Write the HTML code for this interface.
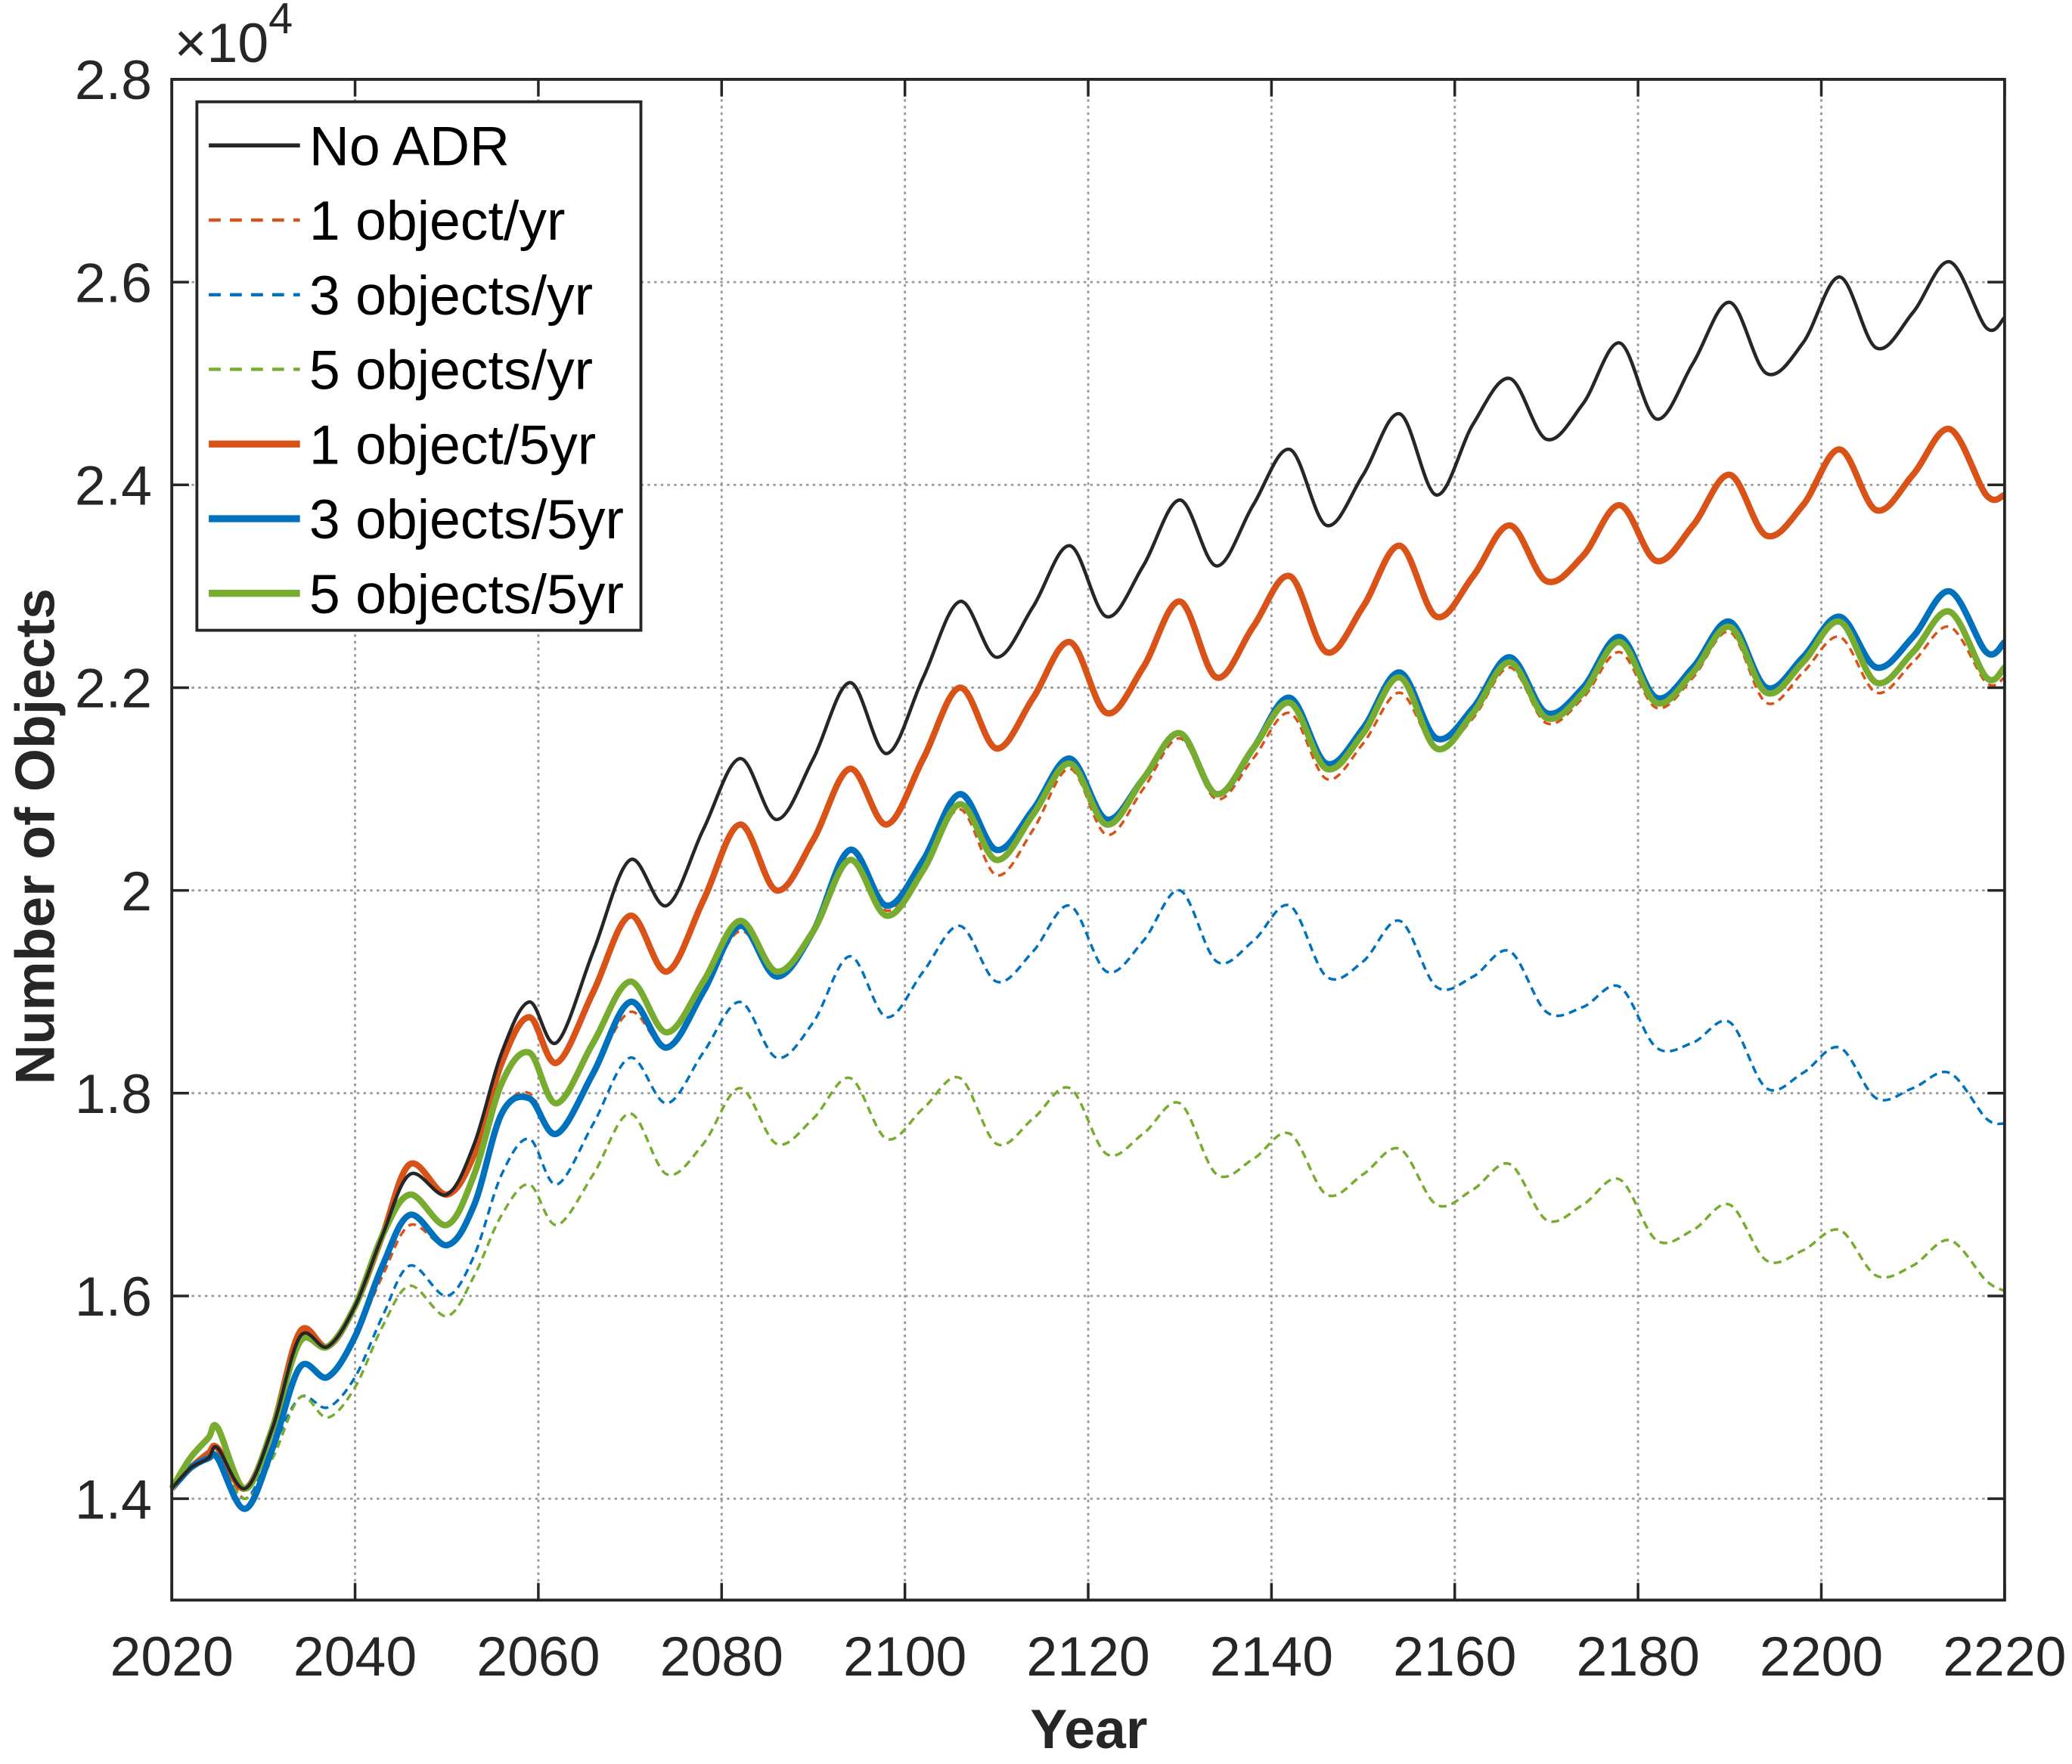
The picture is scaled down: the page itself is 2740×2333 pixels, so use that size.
<!DOCTYPE html>
<html><head><meta charset="utf-8"><style>
html,body{margin:0;padding:0;background:#fff;}
svg{display:block;font-family:"Liberation Sans",Arial,sans-serif;}
</style></head><body>
<svg id="chart" width="2740" height="2333" viewBox="0 0 1568 1335" xmlns="http://www.w3.org/2000/svg">
<rect width="1568" height="1335" fill="#fff"/>
<g id="grid"></g>
<g id="series"></g>
<g id="axes"></g>
<g id="legend"></g>
<text x="132" y="47" font-size="42" fill="#262626">×10<tspan dy="-22" font-size="33">4</tspan></text>
<text x="824" y="1323" text-anchor="middle" font-size="42" font-weight="bold" fill="#262626">Year</text>
<text transform="translate(41,633) rotate(-90)" text-anchor="middle" font-size="42" font-weight="bold" fill="#262626">Number of Objects</text>
</svg>
<script>
const years=[2020,2022,2024,2025,2028,2031,2034,2037,2040,2043,2046,2050,2053,2056,2059,2062,2066,2070,2074,2078,2082,2086,2090,2094,2098,2102,2106,2110,2114,2118,2122,2126,2130,2134,2138,2142,2146,2150,2154,2158,2162,2166,2170,2174,2178,2182,2186,2190,2194,2198,2202,2206,2210,2214,2218,2220];
const noADR=[1.41,1.43,1.44,1.45,1.41,1.47,1.56,1.55,1.59,1.66,1.72,1.70,1.75,1.84,1.89,1.85,1.94,2.03,1.985,2.06,2.13,2.07,2.13,2.205,2.135,2.21,2.285,2.23,2.28,2.34,2.27,2.32,2.385,2.32,2.38,2.435,2.36,2.41,2.47,2.39,2.46,2.505,2.445,2.48,2.54,2.465,2.52,2.58,2.51,2.54,2.605,2.535,2.57,2.62,2.555,2.565];
const one1yr=[1.41,1.43,1.44,1.45,1.40,1.45,1.53,1.52,1.56,1.62,1.67,1.65,1.69,1.78,1.80,1.76,1.82,1.88,1.845,1.90,1.96,1.92,1.96,2.03,1.98,2.02,2.08,2.015,2.06,2.12,2.055,2.10,2.15,2.09,2.13,2.175,2.11,2.145,2.195,2.14,2.17,2.22,2.165,2.19,2.235,2.18,2.21,2.255,2.185,2.215,2.25,2.195,2.225,2.26,2.205,2.21];
const three1yr=[1.41,1.43,1.44,1.44,1.40,1.45,1.50,1.49,1.52,1.58,1.63,1.60,1.64,1.72,1.755,1.71,1.77,1.835,1.79,1.84,1.89,1.835,1.87,1.935,1.875,1.92,1.965,1.91,1.94,1.985,1.92,1.95,2.0,1.93,1.95,1.985,1.915,1.93,1.97,1.905,1.915,1.94,1.88,1.885,1.905,1.845,1.85,1.87,1.805,1.82,1.845,1.795,1.805,1.82,1.775,1.77];
const five1yr=[1.41,1.43,1.44,1.44,1.40,1.44,1.50,1.48,1.51,1.57,1.61,1.58,1.62,1.68,1.71,1.67,1.72,1.78,1.72,1.75,1.805,1.75,1.775,1.815,1.755,1.785,1.815,1.75,1.775,1.805,1.74,1.76,1.79,1.72,1.735,1.76,1.70,1.72,1.745,1.69,1.705,1.73,1.675,1.69,1.715,1.655,1.665,1.69,1.635,1.645,1.665,1.62,1.63,1.655,1.615,1.605];
const one5yr=[1.41,1.43,1.445,1.45,1.41,1.47,1.565,1.55,1.59,1.66,1.73,1.70,1.74,1.83,1.875,1.83,1.90,1.975,1.92,1.99,2.065,2.00,2.05,2.12,2.065,2.13,2.20,2.14,2.19,2.245,2.175,2.22,2.285,2.21,2.26,2.31,2.235,2.28,2.34,2.27,2.31,2.36,2.305,2.33,2.38,2.325,2.36,2.41,2.35,2.38,2.435,2.375,2.41,2.455,2.39,2.39];
const three5yr=[1.41,1.43,1.44,1.44,1.39,1.45,1.53,1.52,1.56,1.63,1.68,1.65,1.69,1.78,1.795,1.76,1.82,1.89,1.845,1.90,1.965,1.915,1.96,2.04,1.985,2.03,2.095,2.04,2.08,2.13,2.07,2.11,2.155,2.095,2.14,2.19,2.125,2.16,2.215,2.15,2.18,2.23,2.175,2.20,2.25,2.19,2.22,2.265,2.20,2.23,2.27,2.22,2.25,2.295,2.235,2.245];
const five5yr=[1.41,1.44,1.46,1.47,1.41,1.47,1.555,1.55,1.59,1.66,1.70,1.67,1.72,1.81,1.84,1.79,1.85,1.91,1.86,1.91,1.97,1.92,1.96,2.03,1.975,2.02,2.085,2.03,2.075,2.125,2.065,2.11,2.155,2.095,2.14,2.185,2.12,2.155,2.21,2.14,2.175,2.225,2.17,2.195,2.245,2.185,2.215,2.26,2.195,2.225,2.265,2.205,2.235,2.275,2.21,2.22];
const xTicks=[2020,2040,2060,2080,2100,2120,2140,2160,2180,2200,2220];
const yTicks=[1.4,1.6,1.8,2,2.2,2.4,2.6,2.8];
const yTickLabels=["1.4","1.6","1.8","2","2.2","2.4","2.6","2.8"];
const seriesNames=["No ADR","1 object/yr","3 objects/yr","5 objects/yr","1 object/5yr","3 objects/5yr","5 objects/5yr"];

const L=130,R=1517,T=60,B=1211;
const X0=2020,X1=2220,Y0=1.3,Y1=2.8;
function sx(v){return L+(v-X0)/(X1-X0)*(R-L);}
function sy(v){return B-(v-Y0)/(Y1-Y0)*(B-T);}
const NS="http://www.w3.org/2000/svg";
function mk(tag,attrs,parent){const e=document.createElementNS(NS,tag);for(const k in attrs)e.setAttribute(k,attrs[k]);parent.appendChild(e);return e;}
const grid=document.getElementById('grid'),axes=document.getElementById('axes'),ser=document.getElementById('series'),leg=document.getElementById('legend');
const gridStyle={stroke:'#9a9a9a','stroke-width':1.6,'stroke-dasharray':'2,3',fill:'none'};
xTicks.forEach((t,i)=>{
  if(i>0&&i<xTicks.length-1){const g=mk('line',Object.assign({x1:sx(t),x2:sx(t),y1:T,y2:B},gridStyle),grid);
  
  }
  const tk=mk('line',{x1:sx(t),x2:sx(t),y1:B,y2:B-13,stroke:'#262626','stroke-width':2},axes);
  
  
  const tk2=mk('line',{x1:sx(t),x2:sx(t),y1:T,y2:T+13,stroke:'#262626','stroke-width':2},axes);
  
  
  const lb=mk('text',{x:sx(t),y:1268,'text-anchor':'middle','font-size':42,fill:'#262626'},axes);
  lb.textContent=t;
  
  
});
yTicks.forEach((t,i)=>{
  if(i<yTicks.length-1){const g=mk('line',Object.assign({x1:L,x2:R,y1:sy(t),y2:sy(t)},gridStyle),grid);
  
  }
  const tk=mk('line',{x1:L,x2:L+13,y1:sy(t),y2:sy(t),stroke:'#262626','stroke-width':2},axes);
  
  
  const tk2=mk('line',{x1:R,x2:R-13,y1:sy(t),y2:sy(t),stroke:'#262626','stroke-width':2},axes);
  
  
  const lb=mk('text',{x:115,y:sy(t)+15,'text-anchor':'end','font-size':42,fill:'#262626'},axes);
  lb.textContent=yTickLabels[i];
  
  
});
const frame=mk('rect',{x:L,y:T,width:R-L,height:B-T,fill:'none',stroke:'#262626','stroke-width':2.2},axes);



const styles=[
 {d:noADR,c:'#262626',w:2.6,dash:null},
 {d:one1yr,c:'#D95319',w:2,dash:'6,4'},
 {d:three1yr,c:'#0072BD',w:2,dash:'6,4'},
 {d:five1yr,c:'#77AC30',w:2,dash:'6,4'},
 {d:one5yr,c:'#D95319',w:4.8,dash:null},
 {d:three5yr,c:'#0072BD',w:4.8,dash:null},
 {d:five5yr,c:'#77AC30',w:4.8,dash:null}
];
function smoothPath(px,py){
  let d='M'+px[0].toFixed(1)+','+py[0].toFixed(1);
  for(let i=0;i<px.length-1;i++){
    const i0=Math.max(0,i-1),i3=Math.min(px.length-1,i+2);
    const c1x=px[i]+(px[i+1]-px[i0])/6,c1y=py[i]+(py[i+1]-py[i0])/6;
    const c2x=px[i+1]-(px[i3]-px[i])/6,c2y=py[i+1]-(py[i3]-py[i])/6;
    d+=' C'+c1x.toFixed(1)+','+c1y.toFixed(1)+' '+c2x.toFixed(1)+','+c2y.toFixed(1)+' '+px[i+1].toFixed(1)+','+py[i+1].toFixed(1);
  }
  return d;
}
const drawOrder=[1,2,3,4,5,6,0];
const keys=['no-adr','one-object-per-yr','three-objects-per-yr','five-objects-per-yr','one-object-per-5yr','three-objects-per-5yr','five-objects-per-5yr'];
drawOrder.forEach(i=>{
  const s=styles[i];
  const px=years.map(sx),py=s.d.map(sy);
  const a={d:smoothPath(px,py),fill:'none',stroke:s.c,'stroke-width':s.w,'stroke-linejoin':'round'};
  if(s.dash)a['stroke-dasharray']=s.dash;
  const p=mk('path',a,ser);
  
  
});

const lb=mk('rect',{x:149,y:77,width:336,height:400,fill:'#fff',stroke:'#262626','stroke-width':2.2},leg);


seriesNames.forEach((n,i)=>{
  const s=styles[i];const cy=110+i*56.5;
  const a={x1:158,x2:227,y1:cy,y2:cy,stroke:s.c,'stroke-width':s.w+0.5};
  if(s.dash)a['stroke-dasharray']='9,7';
  const ln=mk('line',a,leg);
  
  
  const t=mk('text',{x:234,y:cy+15,'font-size':42,fill:'#000'},leg);
  t.textContent=n;
  
  
});
</script>
</body></html>
